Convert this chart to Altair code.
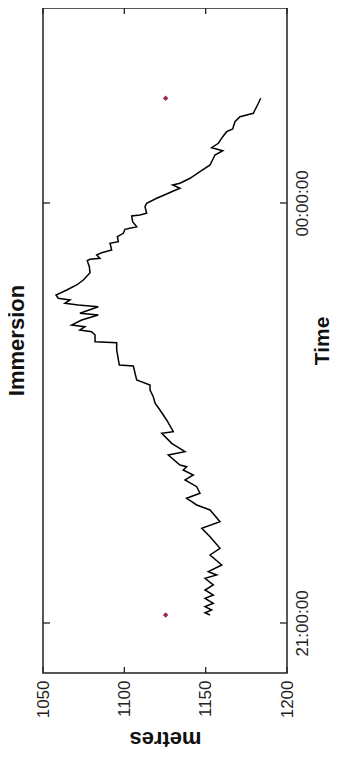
import altair as alt
import pandas as pd

# ---- data (minutes after 21:00, depth in metres) ----
minutes_after_21h = [
    3.43, 4.41, 5.57, 6.99, 8.44, 10.59, 12.0, 14.14, 16.29, 19.16,
    20.57, 21.99, 24.86, 29.14, 32.01, 36.99, 40.59, 43.41, 48.43, 50.57,
    53.44, 55.59, 58.41, 61.29, 63.43, 65.57, 66.99, 67.71, 72.0, 73.41,
    77.01, 81.3, 81.99, 87.0, 91.29, 94.16, 96.99, 99.86, 102.0, 104.14,
    110.14, 110.57, 117.0, 120.13, 120.56, 123.43, 124.84, 125.57, 126.99, 127.71,
    129.86, 132.0, 132.73, 135.56, 136.29, 137.01, 138.43, 139.16, 140.57, 142.71,
    144.86, 147.0, 150.13, 152.7, 155.27, 155.87, 156.3, 157.71, 158.7, 159.86,
    162.73, 163.41, 165.56, 167.01, 168.73, 169.84, 171.99, 174.43, 174.86, 175.59,
    178.41, 179.87, 182.01, 183.86, 184.84, 186.3, 187.71, 188.44, 190.59, 193.41,
    196.29, 200.57, 202.41, 203.7, 205.59, 208.41, 210.56, 211.71, 214.84, 216.99,
    217.71, 218.44, 219.86, 222.73, 224.87,
]
depth_metres = [
    1152.7, 1149.6, 1153.7, 1149.6, 1154.7, 1149.6, 1154.7, 1149.6, 1154.7, 1149.6,
    1156.8, 1151.6, 1159.9, 1152.7, 1158.8, 1152.7, 1147.6, 1158.8, 1152.7, 1144.5,
    1138.3, 1146.5, 1144.5, 1137.3, 1142.4, 1136.2, 1138.3, 1134.2, 1127.0, 1137.3,
    1129.1, 1123.0, 1130.1, 1126.0, 1121.9, 1118.9, 1117.8, 1115.8, 1115.8, 1107.6,
    1105.5, 1096.9, 1095.3, 1095.3, 1082.0, 1082.0, 1079.9, 1072.7, 1075.8, 1067.6,
    1073.8, 1084.0, 1072.7, 1084.0, 1071.7, 1063.5, 1066.6, 1059.4, 1058.0, 1064.6,
    1070.7, 1074.8, 1078.9, 1078.5, 1077.2, 1078.9, 1085.0, 1083.0, 1086.1, 1092.2,
    1091.2, 1096.3, 1095.7, 1099.4, 1100.4, 1107.6, 1105.1, 1104.5, 1109.6, 1113.7,
    1112.7, 1113.7, 1119.9, 1126.0, 1129.1, 1134.2, 1129.7, 1134.2, 1140.4, 1146.5,
    1152.7, 1155.7, 1160.5, 1153.7, 1157.8, 1160.5, 1162.9, 1166.6, 1168.0, 1171.1,
    1175.2, 1179.3, 1180.3, 1182.4, 1183.8,
]
marker_minutes = [3.43, 224.87]
marker_metres = [1125.4, 1125.4]

metre_ticks = [1050, 1100, 1150, 1200]
time_tick_minutes = [0, 180]          # 21:00:00 and 00:00:00
time_domain_minutes = [-21.43, 263.57]

BASE = pd.Timestamp("2000-01-01 21:00:00")


def to_time(mins):
    return BASE + pd.to_timedelta(pd.Series(mins, dtype=float), unit="min")


line_df = pd.DataFrame({
    "idx": range(len(depth_metres)),
    "time": to_time(minutes_after_21h),
    "metres": depth_metres,
})
marker_df = pd.DataFrame({"time": to_time(marker_minutes), "metres": marker_metres})
mtick_df = pd.DataFrame({"metres": metre_ticks})
ttick_df = pd.DataFrame({"time": to_time(time_tick_minutes)})


def dt(ts):
    return alt.DateTime(year=ts.year, month=ts.month, date=ts.day,
                        hours=ts.hour, minutes=ts.minute, seconds=ts.second)


dom = to_time(time_domain_minutes)
tvals = to_time(time_tick_minutes)

W, H = 244, 665
FONT = "Liberation Sans"

x_scale = alt.Scale(domain=[1050, 1200], nice=False, zero=False)
y_scale = alt.Scale(domain=[dt(dom[0]), dt(dom[1])], nice=False)

x_axis = alt.Axis(orient="bottom", values=metre_ticks, format="d", ticks=False,
                  tickSize=0, domain=False, grid=False, labelAngle=270,
                  labelAlign="right", labelBaseline="middle", labelPadding=7,
                  labelFont=FONT, labelFontSize=17, labelColor="#222",
                  title="metres", titleAngle=180, titleBaseline="bottom",
                  titleFont=FONT, titleFontSize=22, titleFontWeight="bold",
                  titleColor="#111", titlePadding=9)
y_axis = alt.Axis(orient="right", values=[dt(v) for v in tvals],
                  format="%H:%M:%S", ticks=False, tickSize=0, domain=False,
                  grid=False, labelAngle=270, labelAlign="center",
                  labelBaseline="top", labelPadding=7, labelFont=FONT,
                  labelFontSize=17, labelColor="#222",
                  title="Time", titleAngle=270, titleBaseline="top", titleFont=FONT,
                  titleFontSize=21, titleFontWeight="bold", titleColor="#111",
                  titlePadding=1)

X = alt.X("metres:Q", scale=x_scale, axis=x_axis)
Y = alt.Y("time:T", scale=y_scale, axis=y_axis)

line = alt.Chart(line_df).mark_line(color="black", strokeWidth=1.5).encode(
    x=X, y=Y, order="idx:Q",
)

markers = alt.Chart(marker_df).mark_point(
    shape="diamond", filled=True, size=30, color="#9b2d4a", opacity=1
).encode(x=X, y=Y)

# inward tick marks on all four sides of the box
mt_bottom = alt.Chart(mtick_df).mark_rule(color="#222", strokeWidth=1.3).encode(
    x=X, y=alt.value(H), y2=alt.value(H - 6))
mt_top = alt.Chart(mtick_df).mark_rule(color="#222", strokeWidth=1.3).encode(
    x=X, y=alt.value(0), y2=alt.value(6))
tt_left = alt.Chart(ttick_df).mark_rule(color="#222", strokeWidth=1.3).encode(
    y=Y, x=alt.value(0), x2=alt.value(7))
tt_right = alt.Chart(ttick_df).mark_rule(color="#222", strokeWidth=1.3).encode(
    y=Y, x=alt.value(W), x2=alt.value(W - 7))

chart = alt.layer(line, markers, mt_bottom, mt_top, tt_left, tt_right).properties(
    width=W, height=H,
    title=alt.TitleParams("Immersion", orient="left", angle=270, anchor="middle",
                          font=FONT, fontSize=22, fontWeight="bold", color="#111",
                          offset=5),
    autosize=alt.AutoSizeParams(type="none"),
    padding={"left": 35, "top": 0, "right": 45, "bottom": 80},
    background="white",
).configure_view(stroke="#222", strokeWidth=1.5)

chart.save("out.html", embed_options={"renderer": "svg", "actions": False})
